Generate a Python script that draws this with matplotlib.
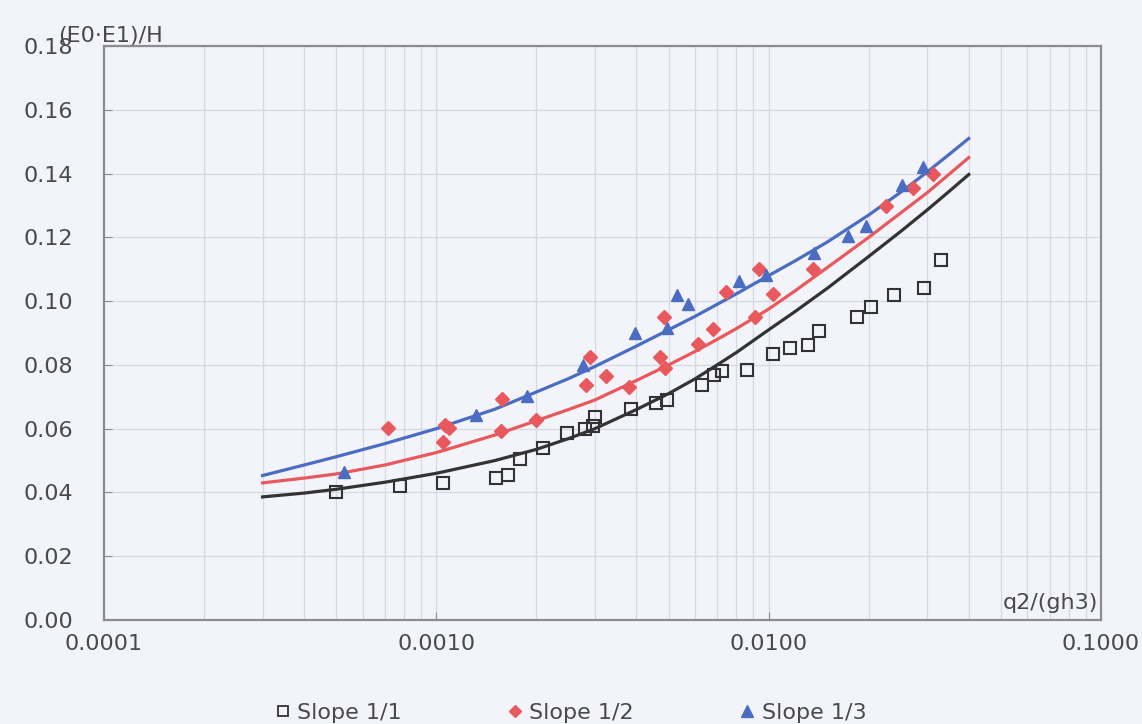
import matplotlib
matplotlib.use("Agg")
import matplotlib.pyplot as plt
from matplotlib.ticker import LogLocator, FixedLocator, FuncFormatter
from matplotlib.lines import Line2D

slope1_x = [0.0005, 0.00078, 0.00105, 0.00151, 0.00164, 0.00178, 0.00209, 0.00248,
            0.00281, 0.00296, 0.00301, 0.00385, 0.00457, 0.00493, 0.00628, 0.00684,
            0.00725, 0.00863, 0.0103, 0.0116, 0.0131, 0.0142, 0.0184, 0.0203,
            0.0239, 0.0294, 0.0331]
slope1_y = [0.0402, 0.0419, 0.0430, 0.0445, 0.0456, 0.0504, 0.0539, 0.0587,
            0.0600, 0.0609, 0.0636, 0.0662, 0.0681, 0.0690, 0.0736, 0.0768,
            0.0780, 0.0783, 0.0833, 0.0852, 0.0863, 0.0905, 0.0951, 0.0981,
            0.1018, 0.1042, 0.1128]

slope2_x = [0.000715, 0.00105, 0.00106, 0.00109, 0.00156, 0.00158, 0.00199, 0.00283,
            0.0029, 0.00324, 0.00381, 0.00471, 0.00484, 0.00488, 0.00614, 0.00679,
            0.00743, 0.00907, 0.00935, 0.0103, 0.0136, 0.0226, 0.0271, 0.0313]
slope2_y = [0.0602, 0.0558, 0.0613, 0.0602, 0.0593, 0.0694, 0.0628, 0.0738,
            0.0824, 0.0764, 0.0732, 0.0825, 0.0951, 0.0791, 0.0867, 0.0911,
            0.1030, 0.0951, 0.1100, 0.1021, 0.1100, 0.1297, 0.1356, 0.1398]

slope3_x = [0.000526, 0.00132, 0.00188, 0.00277, 0.00395, 0.00494, 0.00531, 0.00572,
            0.00814, 0.00984, 0.0137, 0.0173, 0.0196, 0.0252, 0.0292]
slope3_y = [0.0464, 0.0642, 0.0702, 0.0801, 0.0899, 0.0916, 0.1018, 0.0990,
            0.1063, 0.1081, 0.1150, 0.1204, 0.1234, 0.1363, 0.1422]

# fitted curves, read at fixed x positions along each line
fit_x = [0.0003, 0.0004, 0.0005, 0.0007, 0.001, 0.0015, 0.002, 0.0025, 0.003, 0.004,
         0.005, 0.006, 0.007, 0.008, 0.01, 0.012, 0.015, 0.02, 0.025, 0.03, 0.035, 0.04]
fit1_y = [0.0386, 0.0398, 0.0410, 0.0432, 0.0460, 0.0500, 0.0535, 0.0569, 0.0600, 0.0660,
          0.0710, 0.0756, 0.0800, 0.0839, 0.0910, 0.0967, 0.1040, 0.1140, 0.1219, 0.1286,
          0.1345, 0.1397]
fit2_y = [0.0430, 0.0445, 0.0458, 0.0486, 0.0525, 0.0580, 0.0625, 0.0660, 0.0690, 0.0751,
          0.0800, 0.0842, 0.0880, 0.0914, 0.0975, 0.1032, 0.1105, 0.1200, 0.1277, 0.1340,
          0.1399, 0.1450]
fit3_y = [0.0453, 0.0486, 0.0512, 0.0553, 0.0600, 0.0661, 0.0715, 0.0757, 0.0795, 0.0859,
          0.0910, 0.0952, 0.0990, 0.1023, 0.1080, 0.1126, 0.1185, 0.1270, 0.1342, 0.1405,
          0.1461, 0.1510]

x_ticks = [0.0001, 0.001, 0.01, 0.1]
y_ticks = [0.00, 0.02, 0.04, 0.06, 0.08, 0.10, 0.12, 0.14, 0.16, 0.18]
legend_labels = ["Slope 1/1", "Slope 1/2", "Slope 1/3"]

BG = '#f3f4f9'
TXT = '#4a4a4a'
BLACK = '#333333'
RED = '#e8585c'
BLUE = '#4a6cc2'

plt.rcParams['font.family'] = ['DejaVu Sans']

fig = plt.figure(figsize=(11.42, 7.24), dpi=100, facecolor=BG)
ax = fig.add_axes([104 / 1142, 1 - 620 / 724, 997 / 1142, 574 / 724])
ax.set_facecolor(BG)

ax.set_xscale('log')
ax.set_xlim(0.0001, 0.1)
ax.set_ylim(0, 0.18)

ax.xaxis.set_major_locator(FixedLocator(x_ticks))
ax.xaxis.set_minor_locator(LogLocator(base=10, subs=range(2, 10)))
ax.xaxis.set_major_formatter(FuncFormatter(lambda v, p: f'{v:.4f}'))
ax.xaxis.set_minor_formatter(FuncFormatter(lambda v, p: ''))
ax.set_yticks(y_ticks)
ax.yaxis.set_major_formatter(FuncFormatter(lambda v, p: f'{v:.2f}'))

ax.grid(True, which='both', axis='x', color='#d6d8e4', lw=0.9)
ax.grid(True, which='major', axis='y', color='#d6d8e4', lw=0.9)
ax.set_axisbelow(True)

for s in ax.spines.values():
    s.set_color('#8c8c90')
    s.set_linewidth(1.6)

ax.tick_params(axis='both', which='major', direction='in', length=6, color='#8c8c90',
               labelsize=16, labelcolor=TXT)
ax.tick_params(axis='x', which='minor', length=0)
ax.tick_params(axis='y', pad=22)
ax.tick_params(axis='x', pad=10)

# fitted curves
ax.plot(fit_x, fit1_y, color=BLACK, lw=2.3, zorder=2)
ax.plot(fit_x, fit2_y, color=RED, lw=2.3, zorder=2)
ax.plot(fit_x, fit3_y, color=BLUE, lw=2.3, zorder=2)

# measured points
ax.plot(slope1_x, slope1_y, 's', ms=8, mfc='none', mec=BLACK, mew=1.5, zorder=3)
ax.plot(slope2_x, slope2_y, 'D', ms=7.5, color=RED, mec=RED, zorder=3)
ax.plot(slope3_x, slope3_y, '^', ms=9, color=BLUE, mec=BLUE, zorder=3)

# axis titles
fig.text(58 / 1142, 1 - 36 / 724, '(E0·E1)/H', fontsize=16, color=TXT, ha='left', va='center')
fig.text(1098 / 1142, 1 - 603 / 724, 'q2/(gh3)', fontsize=16, color=TXT, ha='right', va='center')

handles = [
    Line2D([], [], ls='none', marker='s', ms=7, mfc='none', mec=BLACK, mew=1.3),
    Line2D([], [], ls='none', marker='D', ms=6, color=RED),
    Line2D([], [], ls='none', marker='^', ms=8, color=BLUE),
]
fig.legend(handles, legend_labels, loc='center', bbox_to_anchor=(570 / 1142, 1 - 713 / 724),
           ncol=3, frameon=False, fontsize=16, labelcolor=TXT, handlelength=0.8,
           handletextpad=0.25, columnspacing=4.7, borderaxespad=0)

fig.savefig('out.png', dpi=100, facecolor=BG)
